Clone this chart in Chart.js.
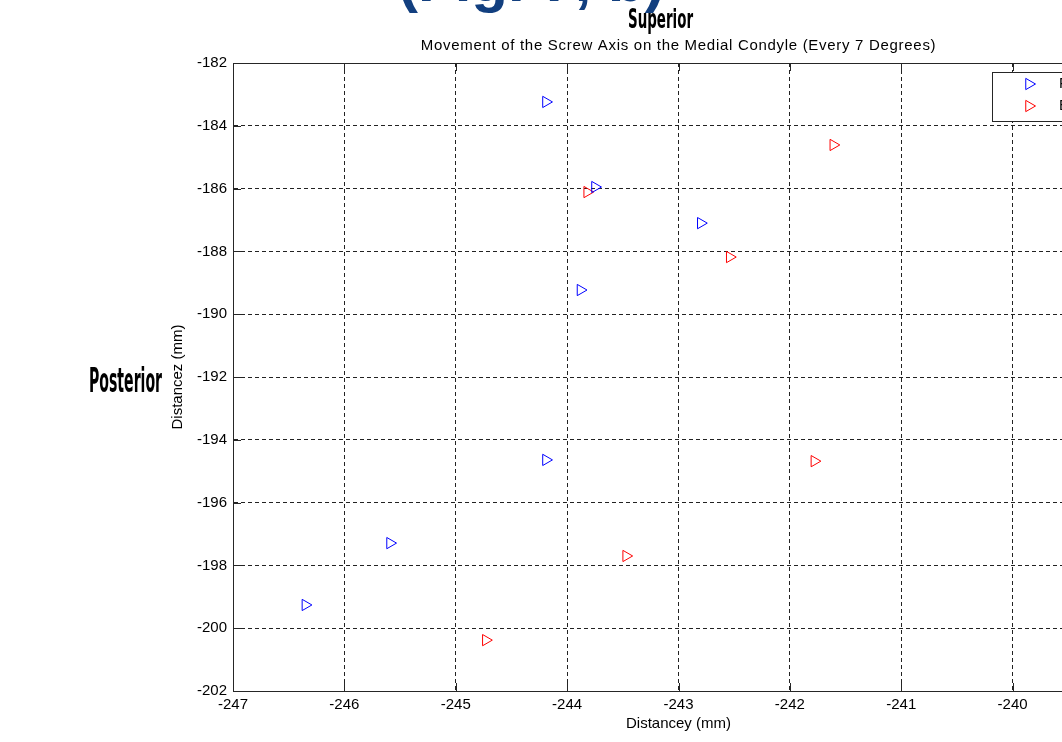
<!DOCTYPE html>
<html>
<head>
<meta charset="utf-8">
<script src="https://cdn.jsdelivr.net/npm/chart.js@4.4.1/dist/chart.umd.min.js"></script>
<style>
  html, body { margin: 0; padding: 0; background: #fff; overflow: hidden; width: 1062px; height: 742px; }
  canvas { display: block; }
</style>
</head>
<body>
<canvas id="chart" width="1200" height="742"></canvas>
<script>
// screw axis positions (mm)
var blueX = [-244.19, -243.75, -242.80, -243.88, -244.19, -245.59, -246.35];
var blueY = [-183.24, -185.95, -187.10, -189.23, -194.64, -197.29, -199.26];
var redX = [-241.61, -243.82, -242.54, -241.78, -243.47, -244.73];
var redY = [-184.61, -186.11, -188.18, -194.68, -197.70, -200.38];
var seriesNames = ['Flexion', 'Extension'];
var xTicks = [-247, -246, -245, -244, -243, -242, -241, -240, -239];
var yTicks = [-202, -200, -198, -196, -194, -192, -190, -188, -186, -184, -182];

var chartTitle = 'Movement of the Screw Axis on the Medial Condyle (Every 7 Degrees)';
var font = 'Liberation Sans, Arial, sans-serif';

function pts(xs, ys) {
  return xs.map(function (x, i) { return { x: x, y: ys[i] }; });
}

// squeezed bold label, like the pasted-in direction words
function narrowText(c, text, x, y, size, width) {
  c.save();
  c.font = 'bold ' + size + 'px "Liberation Sans Narrow", "DejaVu Sans Condensed", Arial, sans-serif';
  var w = c.measureText(text).width;
  c.translate(x, y);
  c.scale(width / w, 1);
  c.textAlign = 'left';
  c.textBaseline = 'alphabetic';
  c.fillStyle = '#000';
  c.fillText(text, 0, 0);
  c.restore();
}

function triangle(c, x, y, r, color) {
  c.strokeStyle = color;
  c.lineWidth = 1;
  c.beginPath();
  c.moveTo(x + r, y);
  c.lineTo(x - r / 2, y - r * Math.sqrt(3) / 2);
  c.lineTo(x - r / 2, y + r * Math.sqrt(3) / 2);
  c.closePath();
  c.stroke();
}

var decor = {
  id: 'decor',
  afterDraw: function (chart) {
    var c = chart.ctx;
    var a = chart.chartArea;
    var xs = chart.scales.x, ys = chart.scales.y;

    c.save();
    // solid box + inward ticks
    c.strokeStyle = '#262626';
    c.lineWidth = 1;
    c.beginPath();
    c.moveTo(a.left, a.top + 0.5); c.lineTo(a.right, a.top + 0.5);
    c.moveTo(a.right - 0.5, a.top); c.lineTo(a.right - 0.5, a.bottom);
    xTicks.forEach(function (v) {
      var px = Math.round(xs.getPixelForValue(v)) + 0.5;
      c.moveTo(px, a.top); c.lineTo(px, a.top + 8);
      c.moveTo(px, a.bottom); c.lineTo(px, a.bottom - 8);
    });
    yTicks.forEach(function (v) {
      var py = Math.round(ys.getPixelForValue(v)) + 0.5;
      c.moveTo(a.left, py); c.lineTo(a.left + 8, py);
      c.moveTo(a.right, py); c.lineTo(a.right - 8, py);
    });
    c.stroke();

    // title, MATLAB spacing is a bit loose
    c.fillStyle = '#000';
    c.font = '15px ' + font;
    c.letterSpacing = '0.7px';
    c.textAlign = 'center';
    c.textBaseline = 'middle';
    c.fillText(chartTitle, (a.left + a.right) / 2, 46);
    c.letterSpacing = '0px';

    // cut-off heading at the very top
    c.fillStyle = '#123f7f';
    c.font = 'bold 60px Arial, "Liberation Sans", sans-serif';
    c.textAlign = 'left';
    c.textBaseline = 'alphabetic';
    c.fillText('(Fig. 7, b)', 398, 1);

    narrowText(c, 'Superior', 628, 28, 26, 65);
    narrowText(c, 'Posterior', 89, 392, 34, 73);

    // legend box
    var lx = 992, ly = 72, lw = 160, lh = 49;
    c.fillStyle = '#fff';
    c.fillRect(lx, ly, lw, lh);
    c.strokeStyle = '#262626';
    c.lineWidth = 1;
    c.strokeRect(lx + 0.5, ly + 0.5, lw, lh);
    chart.data.datasets.forEach(function (ds, i) {
      var yy = ly + 12 + i * 22;
      triangle(c, 1029, yy, 6.5, ds.borderColor);
      c.fillStyle = '#000';
      c.font = '15px ' + font;
      c.textAlign = 'left';
      c.textBaseline = 'middle';
      c.fillText(ds.label, 1059, yy);
    });
    c.restore();
  }
};

var ctx = document.getElementById('chart').getContext('2d');
new Chart(ctx, {
  type: 'scatter',
  data: {
    datasets: [{
      label: seriesNames[0],
      data: pts(blueX, blueY),
      pointStyle: 'triangle',
      rotation: 90,
      radius: 6.5,
      borderWidth: 1,
      borderColor: '#0000ff',
      backgroundColor: 'rgba(0,0,0,0)'
    }, {
      label: seriesNames[1],
      data: pts(redX, redY),
      pointStyle: 'triangle',
      rotation: 90,
      radius: 6.5,
      borderWidth: 1,
      borderColor: '#ff0000',
      backgroundColor: 'rgba(0,0,0,0)'
    }]
  },
  options: {
    responsive: false,
    animation: false,
    layout: { padding: { left: 168, top: 63, right: 76, bottom: 0 } },
    plugins: { legend: { display: false }, tooltip: { enabled: false } },
    scales: {
      x: {
        type: 'linear',
        min: xTicks[0],
        max: xTicks[xTicks.length - 1],
        afterBuildTicks: function (s) { s.ticks = xTicks.map(function (v) { return { value: v }; }); },
        ticks: { color: '#000', font: { family: font, size: 15 }, padding: 5, maxRotation: 0, autoSkip: false },
        grid: { color: '#222', drawTicks: false },
        border: { color: '#262626', dash: [4, 3] },
        title: { display: true, text: 'Distancey (mm)', color: '#000', font: { family: font, size: 15 }, padding: { top: 0, bottom: 9 } },
        afterFit: function (s) { s.height = 51; }
      },
      y: {
        type: 'linear',
        min: yTicks[0],
        max: yTicks[yTicks.length - 1],
        afterBuildTicks: function (s) { s.ticks = yTicks.map(function (v) { return { value: v }; }); },
        ticks: { color: '#000', font: { family: font, size: 15 }, padding: 6, autoSkip: false },
        grid: { color: '#222', drawTicks: false },
        border: { color: '#262626', dash: [4, 3] },
        title: { display: true, text: 'Distancez (mm)', color: '#000', font: { family: font, size: 15 }, padding: { top: 1, bottom: 0 } },
        afterFit: function (s) { s.width = 65; }
      }
    }
  },
  plugins: [decor]
});
</script>
</body>
</html>
